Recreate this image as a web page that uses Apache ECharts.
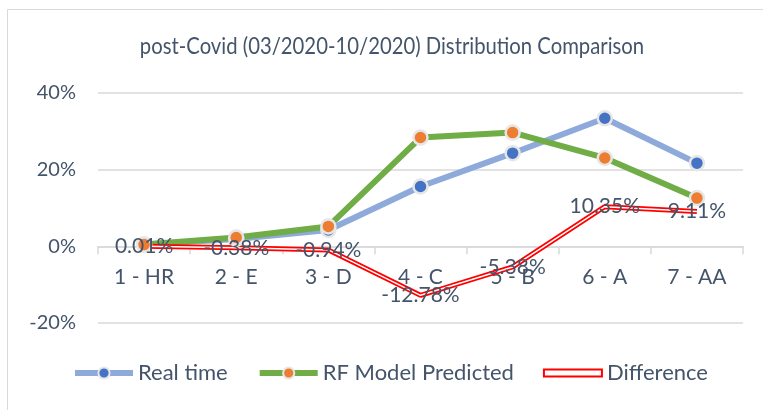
<!DOCTYPE html>
<html>
<head>
<meta charset="utf-8">
<script src="https://cdn.jsdelivr.net/npm/echarts@6/dist/echarts.min.js"></script>
<style>
  html, body { margin: 0; padding: 0; background: #fff; }
  #chart { width: 763px; height: 410px; }
</style>
</head>
<body>
<div id="chart"></div>
<script>
const categories = ['1 - HR', '2 - E', '3 - D', '4 - C', '5 - B', '6 - A', '7 - AA'];
const realTime = [0.46, 1.92, 4.26, 15.6, 24.3, 33.4, 21.7];
const rfPredicted = [0.45, 2.3, 5.2, 28.38, 29.68, 23.05, 12.59];
const difference = [0.01, -0.38, -0.94, -12.78, -5.38, 10.35, 9.11];
const yTicks = [-20, 0, 20, 40];
const chartTitle = 'post-Covid (03/2020-10/2020) Distribution Comparison';

const textColor = '#44546a';
const labelFont = 'Lato, "Open Sans", sans-serif';

const chart = echarts.init(document.getElementById('chart'));

const option = {
  animation: false,
  backgroundColor: '#fff',
  graphic: [
    {
      type: 'rect',
      shape: { x: 7.5, y: 9.5, width: 800, height: 500 },
      style: { fill: 'none', stroke: '#d9d9d9', lineWidth: 1 },
      silent: true
    },
    {
      // title, squeezed sideways to look like the narrow original font
      type: 'text',
      x: 392,
      y: 46,
      scaleX: 0.845,
      style: {
        text: chartTitle,
        align: 'center',
        verticalAlign: 'middle',
        fontFamily: labelFont,
        fontSize: 24,
        fill: textColor
      },
      silent: true
    }
  ],
  legend: {
    bottom: 21,
    left: 67,
    itemWidth: 58,
    itemHeight: 14,
    itemGap: 29,
    textStyle: { fontFamily: labelFont, fontSize: 22, color: textColor },
    data: [
      { name: 'Real time', lineStyle: { width: 6 } },
      { name: 'RF Model Predicted', lineStyle: { width: 6 } },
      {
        name: 'Difference',
        icon: 'path://M0,0h60v7h-60z',
        itemStyle: { color: '#fff', borderColor: '#ff0000', borderWidth: 2 }
      }
    ]
  },
  grid: { left: 98, right: 20, top: 93, bottom: 87, containLabel: false },
  xAxis: {
    type: 'category',
    data: categories,
    axisLine: { onZero: true, lineStyle: { color: '#d9d9d9', width: 1.5 } },
    axisTick: { show: true, length: 8, lineStyle: { color: '#d9d9d9', width: 1.5 } },
    axisLabel: { margin: -56, fontFamily: labelFont, fontSize: 21, color: textColor }
  },
  yAxis: {
    type: 'value',
    min: yTicks[0],
    max: yTicks[yTicks.length - 1],
    interval: 20,
    axisLine: { show: false },
    axisTick: { show: false },
    splitLine: { lineStyle: { color: '#d9d9d9', width: 1.5 } },
    axisLabel: {
      margin: 22,
      fontFamily: labelFont,
      fontSize: 20,
      color: textColor,
      formatter: v => v + '%'
    }
  },
  series: [
    {
      name: 'Real time',
      type: 'line',
      data: realTime,
      symbol: 'circle',
      symbolSize: 14,
      lineStyle: { color: '#8eaadb', width: 6 },
      itemStyle: { color: '#4472c4', borderColor: '#e6e6e6', borderWidth: 2.5 }
    },
    {
      name: 'RF Model Predicted',
      type: 'line',
      data: rfPredicted,
      symbol: 'circle',
      symbolSize: 14,
      lineStyle: { color: '#70ad47', width: 6 },
      itemStyle: { color: '#ed7d31', borderColor: '#e6e6e6', borderWidth: 2.5 }
    },
    {
      name: 'Difference',
      type: 'line',
      data: difference,
      symbol: 'none',
      lineStyle: { color: '#ff0000', width: 5 },
      itemStyle: { color: '#ff0000' }
    },
    {
      // white core of the double red line, carries the labels
      name: 'Difference',
      type: 'line',
      data: difference,
      symbol: 'circle',
      symbolSize: 0.1,
      showSymbol: true,
      lineStyle: { color: '#ffffff', width: 1.5 },
      itemStyle: { color: 'rgba(0,0,0,0)' },
      label: {
        show: true,
        position: 'inside',
        fontFamily: labelFont,
        fontSize: 21,
        color: textColor,
        formatter: p => p.value.toFixed(2) + '%'
      },
      silent: true
    }
  ]
};

chart.setOption(option);
</script>
</body>
</html>
